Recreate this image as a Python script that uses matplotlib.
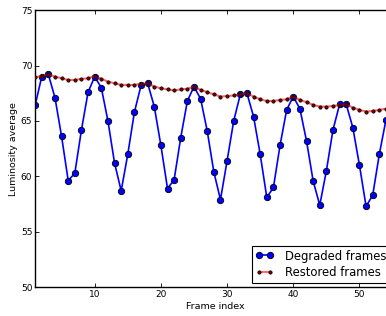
import numpy as np
from matplotlib import pyplot as plt

# =============================================================================
# data
# =============================================================================

frames = np.arange(1, 55)

degraded = [66.4, 69.0, 69.2, 67.1, 63.6, 59.6, 60.3, 64.2, 67.6, 69.0,
            68.0, 65.0, 61.2, 58.7, 62.0, 65.8, 68.2, 68.4, 66.3, 62.8,
            58.9, 59.7, 63.5, 66.8, 68.1, 67.0, 64.1, 60.4, 57.9, 61.4,
            65.0, 67.4, 67.5, 65.4, 62.0, 58.1, 59.0, 62.8, 66.0, 67.2,
            66.1, 63.2, 59.6, 57.4, 60.5, 64.2, 66.5, 66.5, 64.4, 61.0,
            57.3, 58.3, 62.0, 65.1]

restored = [68.95, 69.05, 69.2, 69.0, 68.85, 68.7, 68.7, 68.8, 68.85, 69.05,
            68.8, 68.55, 68.4, 68.25, 68.25, 68.25, 68.35, 68.4, 68.1, 67.95,
            67.85, 67.75, 67.85, 67.9, 68.1, 67.8, 67.6, 67.4, 67.2, 67.25,
            67.3, 67.4, 67.5, 67.2, 66.95, 66.8, 66.8, 66.9, 66.95, 67.2,
            66.9, 66.7, 66.45, 66.3, 66.3, 66.35, 66.45, 66.5, 66.2, 66.0,
            65.85, 65.9, 66.0, 66.1]


# =============================================================================
# plot
# =============================================================================

fig = plt.figure(figsize=(3.86, 3.16), dpi=100)
# the original axes run past the right edge of the picture
ax = fig.add_axes([0.091, 0.091, 0.932, 0.877])

ax.plot(frames, degraded, '-o', color='b', linewidth=1.2,
        markerfacecolor='b', markeredgecolor='k', markeredgewidth=0.6,
        markersize=4.6, label='Degraded frames', zorder=2)
ax.plot(frames, restored, '-', color='r', alpha=0.6, linewidth=1.5, zorder=3)
ax.plot(frames, restored, 'o', color='#7a0000', markeredgecolor='k',
        markeredgewidth=0.5, markersize=2.4, zorder=4)
# legend proxy for restored series
ax.plot([], [], '-o', color='#f07070', linewidth=1.5, markerfacecolor='#7a0000',
        markeredgecolor='k', markeredgewidth=0.5, markersize=2.4,
        label='Restored frames')

ax.set_xlim(1, 55.35)
ax.set_ylim(50, 75)
ax.set_xticks([10, 20, 30, 40, 50])
ax.set_yticks([50, 55, 60, 65, 70, 75])

ax.tick_params(direction='in', top=True, right=True, labelsize=6.5,
               length=3, width=0.6, pad=2)
for s in ax.spines.values():
    s.set_linewidth(1.0)
    s.set_color('k')

ax.set_xlabel('Frame index', fontsize=6.8, labelpad=2)
ax.set_ylabel('Luminosity average', fontsize=6.8, labelpad=2)

leg = ax.legend(loc='lower right', fontsize=8.4, numpoints=2, fancybox=False,
                borderaxespad=0.4, handlelength=1.6, handletextpad=1.0,
                borderpad=0.3, labelspacing=0.3, framealpha=1)
leg.get_frame().set_edgecolor('k')
leg.get_frame().set_linewidth(0.8)

fig.savefig('out.png', dpi=100)
